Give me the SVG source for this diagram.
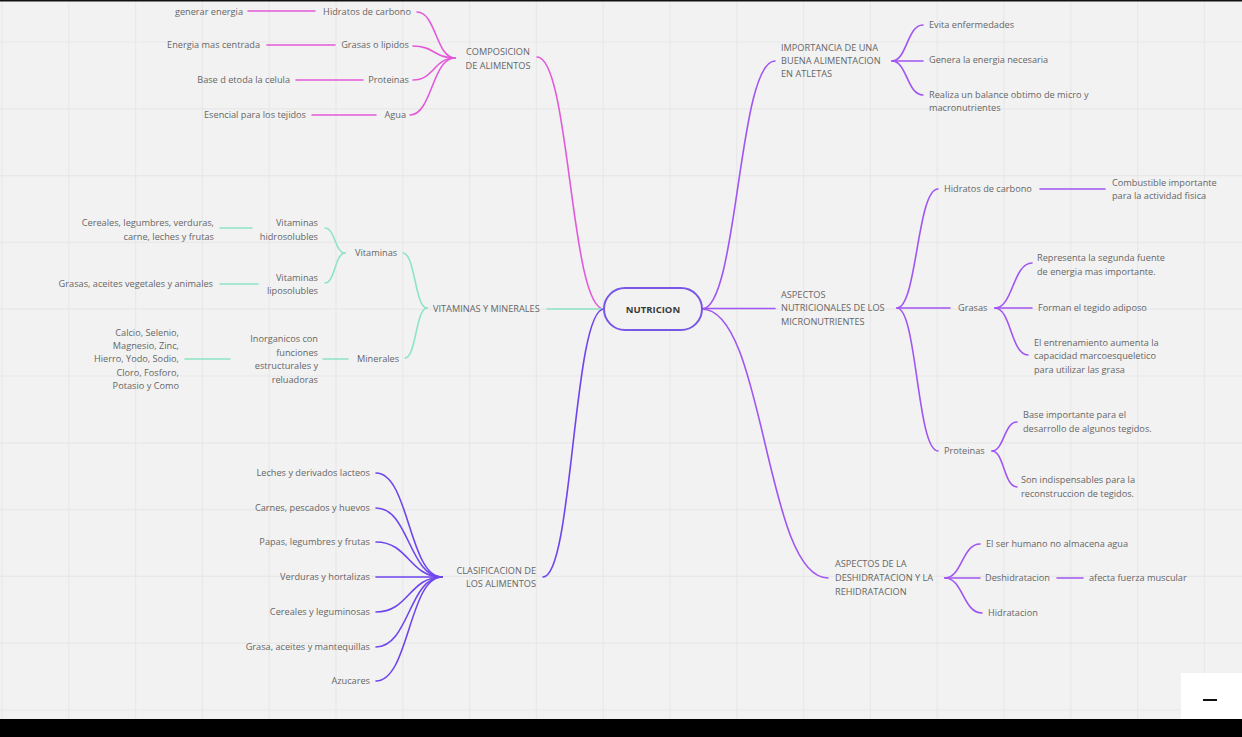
<svg xmlns="http://www.w3.org/2000/svg" width="1242" height="737" viewBox="0 0 1242 737">
<defs>
<style>
.t{font-family:"Open Sans","Liberation Sans",sans-serif;font-size:9.2px;fill:#666}
.e{text-anchor:end}
.m{text-anchor:middle}
.c{fill:none;stroke-width:1.6;stroke-linecap:round}
.pk{stroke:#e25ad9}
.tl{stroke:#8fe3c8}
.bv{stroke:#6f46ee}
.vi{stroke:#a155f2}
.g{stroke:#e8e8e8;stroke-width:1.2}
</style>
</defs>
<rect width="1242" height="737" fill="#f2f2f2"/>
<g id="grid">
<path class="g" d="M2,0V719M68.8,0V719M135.6,0V719M202.4,0V719M269.2,0V719M336,0V719M402.8,0V719M469.6,0V719M536.4,0V719M603.2,0V719M670,0V719M736.8,0V719M803.6,0V719M870.4,0V719M937.2,0V719M1004,0V719M1070.8,0V719M1137.6,0V719M1204.4,0V719"/>
<path class="g" d="M0,42H1242M0,108.8H1242M0,175.6H1242M0,242.4H1242M0,309.2H1242M0,376H1242M0,442.8H1242M0,509.6H1242M0,576.4H1242M0,643.2H1242M0,710H1242"/>
</g>
<rect x="0" y="0" width="1242" height="1.5" fill="#111"/>

<g id="connectors">
<path class="c pk" d="M604,309 C570,309 570,57 537,57"/>
<path class="c pk" d="M417,12 C436,12 436,58 455,58"/>
<path class="c pk" d="M413,46 C434,46 434,58 455,58"/>
<path class="c pk" d="M413,80 C434,80 434,58 455,58"/>
<path class="c pk" d="M410,115 C432,115 432,58 455,58"/>
<path class="c pk" d="M248,11 H315 M267,45 H335 M296,80 H363 M312,115 H376"/>
<path class="c tl" d="M547,309 H604"/>
<path class="c tl" d="M403,253 C415,253 415,308 427,308"/>
<path class="c tl" d="M405,358 C416,358 416,308 427,308"/>
<path class="c tl" d="M325,228 C335,228 335,253 345,253"/>
<path class="c tl" d="M325,283 C335,283 335,253 345,253"/>
<path class="c tl" d="M220,228 H252 M220,284 H258 M323,359 H348 M185,359 H230"/>
<path class="c bv" d="M604,309 C573,309 573,577 543,577"/>
<path class="c bv" d="M376,473 C409,473 409,577 442,577"/>
<path class="c bv" d="M376,508 C409,508 409,577 442,577"/>
<path class="c bv" d="M376,542 C409,542 409,577 442,577"/>
<path class="c bv" d="M376,577 H442"/>
<path class="c bv" d="M376,612 C409,612 409,577 442,577"/>
<path class="c bv" d="M376,647 C409,647 409,577 442,577"/>
<path class="c bv" d="M376,681 C409,681 409,577 442,577"/>
<path class="c vi" d="M702,309 C738,309 738,61 775,61"/>
<path class="c vi" d="M892,61 C907,61 907,25 923,25"/>
<path class="c vi" d="M892,61 H923"/>
<path class="c vi" d="M892,61 C907,61 907,95 923,95"/>
<path class="c vi" d="M702,308.5 H775"/>
<path class="c vi" d="M897,308 C917,308 917,189 938,189"/>
<path class="c vi" d="M897,308 H950"/>
<path class="c vi" d="M897,308 C917,308 917,451 938,451"/>
<path class="c vi" d="M1040,189 H1105"/>
<path class="c vi" d="M995,308 C1013,308 1013,263 1032,263"/>
<path class="c vi" d="M995,308 H1032"/>
<path class="c vi" d="M995,308 C1011,308 1011,355 1028,355"/>
<path class="c vi" d="M992,451 C1004,451 1004,422 1017,422"/>
<path class="c vi" d="M992,451 C1004,451 1004,487 1017,487"/>
<path class="c vi" d="M702,309 C765,309 765,578 828,578"/>
<path class="c vi" d="M945,578 C962,578 962,544 980,544"/>
<path class="c vi" d="M945,578 H980"/>
<path class="c vi" d="M945,578 C963,578 963,613 982,613"/>
<path class="c vi" d="M1057,578 H1083"/>
</g>

<g id="nutricion">
<rect x="604" y="288" width="98" height="42" rx="21" fill="#f2f2f2" stroke="#7857e6" stroke-width="2"/>
<text class="t m" x="653" y="312.5" style="font-weight:700;font-size:9.5px;fill:#3a3a3a">NUTRICION</text>
</g>

<g id="composicion">
<text class="t m" x="498" y="55.2">COMPOSICION</text>
<text class="t m" x="498" y="69.2">DE ALIMENTOS</text>
</g>
<g id="comp-hidratos"><text class="t e" x="411" y="14.6">Hidratos de carbono</text></g>
<g id="comp-hidratos-d"><text class="t e" x="243" y="14.6">generar energia</text></g>
<g id="comp-grasas"><text class="t e" x="409" y="48.4">Grasas o lipidos</text></g>
<g id="comp-grasas-d"><text class="t e" x="260" y="48.4">Energia mas centrada</text></g>
<g id="comp-proteinas"><text class="t e" x="409" y="83.4">Proteinas</text></g>
<g id="comp-proteinas-d"><text class="t e" x="290" y="83.4">Base d etoda la celula</text></g>
<g id="comp-agua"><text class="t e" x="406" y="118.4">Agua</text></g>
<g id="comp-agua-d"><text class="t e" x="306" y="118.4">Esencial para los tejidos</text></g>

<g id="vitmin"><text class="t" x="433" y="312.2">VITAMINAS Y MINERALES</text></g>
<g id="vitaminas"><text class="t" x="355" y="256.2">Vitaminas</text></g>
<g id="hidrosolubles">
<text class="t e" x="318" y="226.2">Vitaminas</text>
<text class="t e" x="318" y="240.2">hidrosolubles</text>
</g>
<g id="hidrosolubles-d">
<text class="t e" x="214" y="226.2">Cereales, legumbres, verduras,</text>
<text class="t e" x="214" y="240.2">carne, leches y frutas</text>
</g>
<g id="liposolubles">
<text class="t e" x="318" y="281.2">Vitaminas </text>
<text class="t e" x="318" y="294.2">liposolubles</text>
</g>
<g id="liposolubles-d"><text class="t e" x="213" y="287.2">Grasas, aceites vegetales y animales</text></g>
<g id="minerales"><text class="t" x="357" y="362.2">Minerales</text></g>
<g id="inorganicos">
<text class="t e" x="318" y="342.2">Inorganicos con</text>
<text class="t e" x="318" y="356.2">funciones</text>
<text class="t e" x="318" y="369.2">estructurales y</text>
<text class="t e" x="318" y="383.2">reluadoras</text>
</g>
<g id="minerales-d">
<text class="t e" x="179" y="336.2">Calcio, Selenio,</text>
<text class="t e" x="179" y="349.2">Magnesio, Zinc,</text>
<text class="t e" x="179" y="362.2">Hierro, Yodo, Sodio,</text>
<text class="t e" x="179" y="376.2">Cloro, Fosforo,</text>
<text class="t e" x="179" y="389.2">Potasio y Como</text>
</g>

<g id="clasificacion">
<text class="t e" x="536" y="574.2">CLASIFICACION DE</text>
<text class="t e" x="536" y="587.2">LOS ALIMENTOS</text>
</g>
<g id="cl-1"><text class="t e" x="370" y="476.2">Leches y derivados lacteos</text></g>
<g id="cl-2"><text class="t e" x="370" y="511.2">Carnes, pescados y huevos</text></g>
<g id="cl-3"><text class="t e" x="370" y="545.2">Papas, legumbres y frutas</text></g>
<g id="cl-4"><text class="t e" x="370" y="580.2">Verduras y hortalizas</text></g>
<g id="cl-5"><text class="t e" x="370" y="615.2">Cereales y leguminosas</text></g>
<g id="cl-6"><text class="t e" x="370" y="650.2">Grasa, aceites y mantequillas</text></g>
<g id="cl-7"><text class="t e" x="370" y="684.2">Azucares</text></g>

<g id="importancia">
<text class="t" x="781" y="51.2">IMPORTANCIA DE UNA</text>
<text class="t" x="781" y="64.2">BUENA ALIMENTACION</text>
<text class="t" x="781" y="77.2">EN ATLETAS</text>
</g>
<g id="imp-1"><text class="t" x="929" y="28.2">Evita enfermedades</text></g>
<g id="imp-2"><text class="t" x="929" y="63.2">Genera la energia necesaria</text></g>
<g id="imp-3">
<text class="t" x="929" y="98.2">Realiza un balance obtimo de micro y</text>
<text class="t" x="929" y="111.2">macronutrientes</text>
</g>

<g id="aspectos-nutri">
<text class="t" x="781" y="298.2">ASPECTOS</text>
<text class="t" x="781" y="311.2">NUTRICIONALES DE LOS</text>
<text class="t" x="781" y="325.2">MICRONUTRIENTES</text>
</g>
<g id="an-hidratos"><text class="t" x="944" y="192.2">Hidratos de carbono</text></g>
<g id="an-hidratos-d">
<text class="t" x="1112" y="186.2">Combustible importante</text>
<text class="t" x="1112" y="199.2">para la actividad fisica</text>
</g>
<g id="an-grasas"><text class="t" x="958" y="311.2">Grasas</text></g>
<g id="an-grasas-1">
<text class="t" x="1037" y="261.2">Representa la segunda fuente</text>
<text class="t" x="1037" y="275.2">de energia mas importante.</text>
</g>
<g id="an-grasas-2"><text class="t" x="1038" y="311.2">Forman el tegido adiposo</text></g>
<g id="an-grasas-3">
<text class="t" x="1034" y="346.2">El entrenamiento aumenta la</text>
<text class="t" x="1034" y="359.2">capacidad marcoesqueletico</text>
<text class="t" x="1034" y="373.2">para utilizar las grasa</text>
</g>
<g id="an-proteinas"><text class="t" x="944" y="454.2">Proteinas</text></g>
<g id="an-proteinas-1">
<text class="t" x="1023" y="418.2">Base importante para el</text>
<text class="t" x="1023" y="432.2">desarrollo de algunos tegidos.</text>
</g>
<g id="an-proteinas-2">
<text class="t" x="1021" y="483.2">Son indispensables para la</text>
<text class="t" x="1021" y="497.2">reconstruccion de tegidos.</text>
</g>

<g id="deshidratacion">
<text class="t" x="835" y="567.2">ASPECTOS DE LA</text>
<text class="t" x="835" y="581.2">DESHIDRATACION Y LA</text>
<text class="t" x="835" y="595.2">REHIDRATACION</text>
</g>
<g id="dh-1"><text class="t" x="986" y="547.2">El ser humano no almacena agua</text></g>
<g id="dh-2"><text class="t" x="985" y="581.2">Deshidratacion</text></g>
<g id="dh-2-d"><text class="t" x="1089" y="581.2">afecta fuerza muscular</text></g>
<g id="dh-3"><text class="t" x="988" y="616.2">Hidratacion</text></g>

<rect x="0" y="719" width="1242" height="18" fill="#000"/>
<g id="zoom-control">
<rect x="1181" y="673" width="61" height="46" fill="#fff"/>
<rect x="1203" y="699" width="14" height="2" fill="#111"/>
</g>
</svg>
